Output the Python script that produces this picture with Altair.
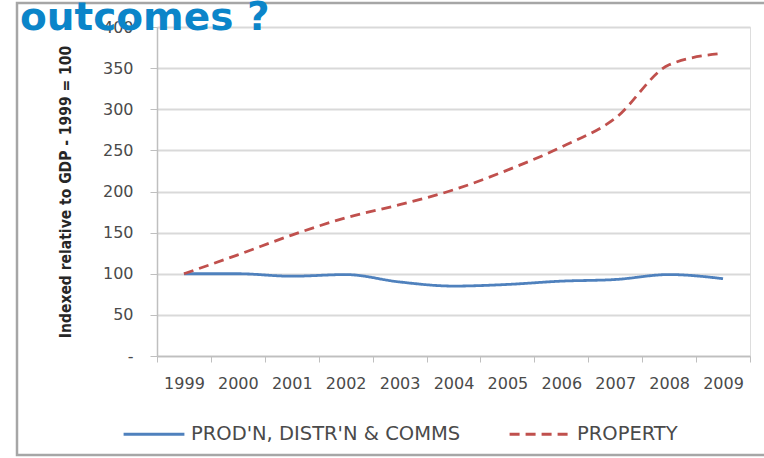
import altair as alt
import pandas as pd

years = ["1999", "2000", "2001", "2002", "2003", "2004", "2005", "2006", "2007", "2008", "2009"]
prod = [100, 100, 97, 99, 90, 85, 87, 91, 93, 99, 94]
prop = [100, 123, 147, 168, 184, 202, 226, 254, 289, 354, 368]
series = ["PROD'N, DISTR'N & COMMS", "PROPERTY"]
y_ticks = [0, 50, 100, 150, 200, 250, 300, 350, 400]
headline = "outcomes ?"

rows = []
for i, yr in enumerate(years):
    rows.append({"year": yr, "series": series[0], "value": prod[i]})
    rows.append({"year": yr, "series": series[1], "value": prop[i]})
df = pd.DataFrame(rows)

lines = alt.Chart(df).mark_line(strokeWidth=2.8, interpolate="monotone").encode(
    x=alt.X("year:O", sort=years, title=None,
            axis=alt.Axis(labelAngle=0, tickBand="extent", labelPadding=13,
                          domainColor="#bfbfbf", domainWidth=1.5, tickColor="#bfbfbf",
                          tickSize=6, labelFontSize=16, labelColor="#4a4a4a",
                          labelFont="DejaVu Sans")),
    y=alt.Y("value:Q", scale=alt.Scale(domain=[0, 400], nice=False),
            title="Indexed relative to GDP - 1999 = 100",
            axis=alt.Axis(values=y_ticks, labelExpr="datum.value == 0 ? '-' : datum.label",
                          gridColor="#d9d9d9", gridWidth=1.8, domainColor="#bfbfbf",
                          domainWidth=1.5, tickColor="#bfbfbf", tickSize=7, labelPadding=17,
                          labelFontSize=16, labelColor="#4a4a4a", labelFont="DejaVu Sans",
                          titleFontSize=15.5, titleFontWeight="bold", titleColor="#262626",
                          titleFont="DejaVu Sans Condensed", titlePadding=29)),
    color=alt.Color("series:N", scale=alt.Scale(domain=series, range=["#4f81bd", "#c0504d"]),
                    legend=alt.Legend(title=None, orient="none", legendX=-35, legendY=375,
                                      direction="horizontal", symbolType="stroke",
                                      symbolSize=3700, symbolStrokeWidth=2.8,
                                      labelFontSize=19.5, labelColor="#4a4a4a",
                                      labelFont="DejaVu Sans", columnPadding=42,
                                      labelOffset=5, labelLimit=0, padding=0)),
    strokeDash=alt.StrokeDash("series:N",
                              scale=alt.Scale(domain=series, range=[[1, 0], [10, 6]]),
                              legend=None),
)

frame = alt.Chart(pd.DataFrame({"k": [0]})).mark_rect(
    fill=None, stroke="#a6a6a6", strokeWidth=2.5
).encode(x=alt.value(-140), x2=alt.value(640), y=alt.value(-24), y2=alt.value(428))

title = alt.Chart(pd.DataFrame({"t": [headline]})).mark_text(
    align="left", baseline="alphabetic", font="DejaVu Sans", fontSize=39,
    fontWeight="bold", color="#0b85c9"
).encode(text="t:N", x=alt.value(-137), y=alt.value(3))

chart = alt.layer(frame, lines, title).properties(
    width=593, height=329,
    autosize=alt.AutoSizeParams(type="none"),
    padding={"left": 157, "top": 27, "right": 14, "bottom": 102},
).configure_view(stroke=None).configure(background="white")

chart.save("out.html", embed_options={"renderer": "svg", "actions": False})
